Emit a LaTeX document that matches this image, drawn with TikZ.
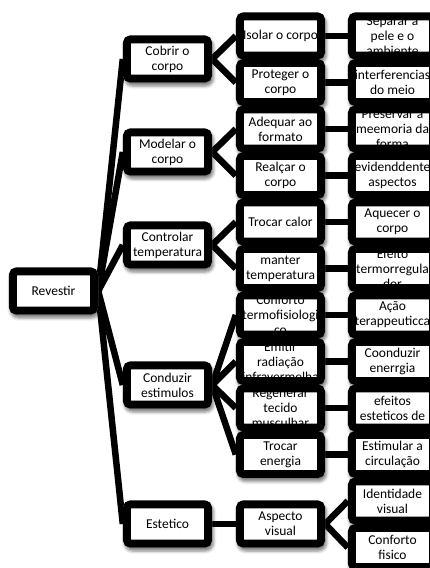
\documentclass[tikz,border=0pt]{standalone}
\usepackage{fontspec}
\setmainfont{Carlito}
\usetikzlibrary{shadows.blur,backgrounds}
\pgfdeclarelayer{fg}
\pgfsetlayers{background,main,fg}
\tikzset{
  box/.style={rectangle, rounded corners=8pt, minimum width=89pt, minimum height=47pt,
    inner sep=0pt, fill=white, align=center, text=black,
    font=\fontsize{13.5}{15}\selectfont,
    blur shadow={shadow xshift=1.5pt, shadow yshift=-3.5pt, shadow blur radius=3pt, shadow opacity=50}},
  frame/.style={draw=black, line width=8pt, rounded corners=4pt},
  link/.style={draw=black, line width=6.5pt},
}
\begin{document}
\begin{tikzpicture}[x=1pt,y=-1pt]
\useasboundingbox (0,0) rectangle (430,568);
\clip (0,0) rectangle (430,568);
% root
\node[box] (r) at (53.5,291) {Revestir};
% level 1
\node[box] (a1) at (167.5,59) {Cobrir o\\corpo};
\node[box] (a2) at (167.5,152) {Modelar o\\corpo};
\node[box] (a3) at (167.5,245) {Controlar\\temperatura};
\node[box] (a4) at (167.5,385) {Conduzir\\estimulos};
\node[box] (a5) at (167.5,524) {Estetico};
% level 2
\node[box] (b1) at (280.5,36) {Isolar o corpo};
\node[box] (b2) at (280.5,82.5) {Proteger o\\corpo};
\node[box] (b3) at (280.5,129) {Adequar ao\\formato};
\node[box] (b4) at (280.5,175.5) {Realçar o\\corpo};
\node[box] (b5) at (280.5,222) {Trocar calor};
\node[box] (b6) at (280.5,268.5) {manter\\temperatura};
\node[box] (b7) at (280.5,315) {Conforto\\termofisiologi\\co};
\node[box] (b8) at (280.5,361.5) {Emitir\\radiação\\infravermelha};
\node[box] (b9) at (280.5,408) {Regenerar\\tecido\\musculhar};
\node[box] (b10) at (280.5,454.5) {Trocar\\energia};
\node[box] (b11) at (280.5,524) {Aspecto\\visual};
% level 3
\node[box] (c1) at (392.5,36) {Separar a\\pele e o\\ambiente};
\node[box] (c2) at (392.5,82.5) {interferencias\\do meio};
\node[box] (c3) at (392.5,129) {Preservar a\\meemoria da\\forma};
\node[box] (c4) at (392.5,175.5) {evidenddente\\aspectos};
\node[box] (c5) at (392.5,222) {Aquecer o\\corpo};
\node[box] (c6) at (392.5,268.5) {Efeito\\termorregula\\dor};
\node[box] (c7) at (392.5,315) {Ação\\terappeuticca};
\node[box] (c8) at (392.5,361.5) {Coonduzir\\enerrgia};
\node[box] (c9) at (392.5,408) {efeitos\\esteticos de};
\node[box] (c10) at (392.5,454.5) {Estimular a\\circulação};
\node[box] (c11) at (392.5,501) {Identidade\\visual};
\node[box] (c12) at (392.5,547.5) {Conforto\\fisico};
% connectors
\begin{pgfonlayer}{background}
\foreach \k in {a1,a2,a3,a4,a5} \draw[link] (r.east) -- (\k.west);
\draw[link] (a1.east) -- (b1.west);
\draw[link] (a1.east) -- (b2.west);
\draw[link] (a2.east) -- (b3.west);
\draw[link] (a2.east) -- (b4.west);
\draw[link] (a3.east) -- (b5.west);
\draw[link] (a3.east) -- (b6.west);
\foreach \k in {b7,b8,b9,b10} \draw[link] (a4.east) -- (\k.west);
\draw[link] (a5.east) -- (b11.west);
\foreach \i in {1,...,10} \draw[link] (b\i.east) -- (c\i.west);
\draw[link] (b11.east) -- (c11.west);
\draw[link] (b11.east) -- (c12.west);
\end{pgfonlayer}
% frames on top
\begin{pgfonlayer}{fg}
\foreach \n in {r,a1,a2,a3,a4,a5,b1,b2,b3,b4,b5,b6,b7,b8,b9,b10,b11,c1,c2,c3,c4,c5,c6,c7,c8,c9,c10,c11,c12}
  \draw[frame] ([xshift=4pt,yshift=-4pt]\n.north west) rectangle ([xshift=-4pt,yshift=4pt]\n.south east);
\end{pgfonlayer}
\end{tikzpicture}
\end{document}
